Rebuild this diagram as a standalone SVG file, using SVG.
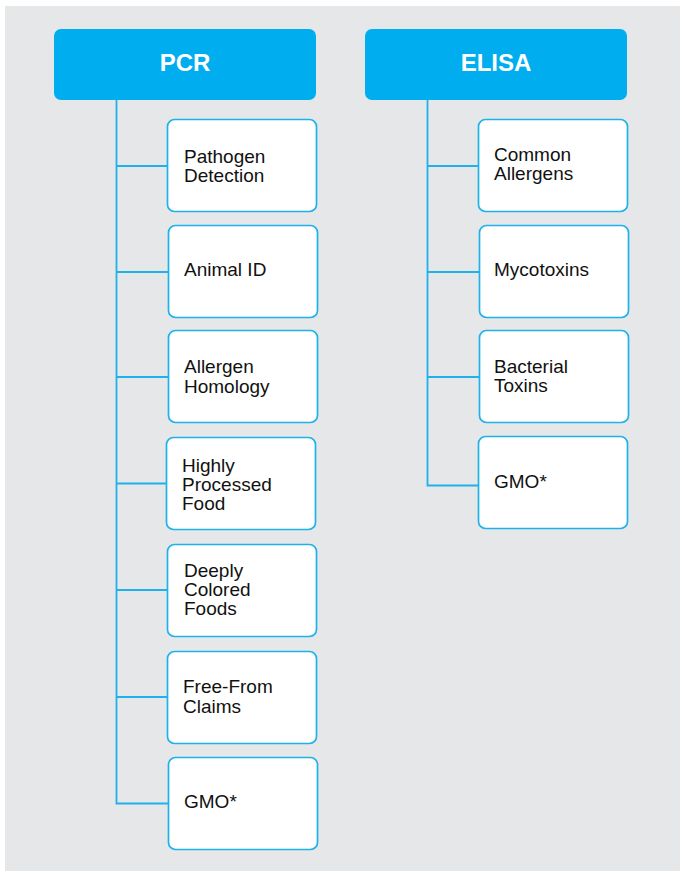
<svg xmlns="http://www.w3.org/2000/svg" width="680" height="871" viewBox="0 0 680 871">
<style>
.hdr{fill:#00AEEF}
.hdrt{font-family:"Liberation Sans",Arial,sans-serif;font-weight:bold;font-size:24px;fill:#fff;text-anchor:middle}
.box{fill:#fff;stroke:#1FB2EA;stroke-width:1.7}
.t{font-family:"Liberation Sans",Arial,sans-serif;font-size:19px;fill:#111}
.ln{fill:none;stroke:#1FB2EA;stroke-width:1.8}
</style>
<rect x="0" y="0" width="680" height="871" fill="#fff"/>
<rect x="5" y="6" width="675" height="865" fill="#E6E7E8"/>
<g id="connectors">
<path class="ln" d="M116.5 100 V803.5 H168 M116.5 166 H167 M116.5 272 H168 M116.5 377 H168 M116.5 483.5 H166 M116.5 590 H167 M116.5 697 H167"/>
<path class="ln" d="M427.5 100 V485.5 H478 M427.5 166 H478 M427.5 272 H479 M427.5 377 H479"/>
</g>
<g id="pcr"><rect class="hdr" x="54" y="29" width="262" height="71" rx="7"/><text class="hdrt" x="185" y="71">PCR</text></g>
<g id="elisa"><rect class="hdr" x="365" y="29" width="262" height="71" rx="7"/><text class="hdrt" x="496" y="71">ELISA</text></g>
<g id="pathogen"><rect class="box" x="167.5" y="119.5" width="149" height="92" rx="7"/><text class="t" x="184" y="163">Pathogen</text><text class="t" x="184" y="182">Detection</text></g>
<g id="animal"><rect class="box" x="168.5" y="225.5" width="149" height="92" rx="7"/><text class="t" x="184" y="276">Animal ID</text></g>
<g id="allergen"><rect class="box" x="168.5" y="330.5" width="149" height="92" rx="7"/><text class="t" x="184" y="373">Allergen</text><text class="t" x="184" y="393">Homology</text></g>
<g id="processed"><rect class="box" x="166.5" y="437.5" width="149" height="92" rx="7"/><text class="t" x="182" y="472">Highly</text><text class="t" x="182" y="491">Processed</text><text class="t" x="182" y="510">Food</text></g>
<g id="colored"><rect class="box" x="167.5" y="544.5" width="149" height="92" rx="7"/><text class="t" x="184" y="577">Deeply</text><text class="t" x="184" y="596">Colored</text><text class="t" x="184" y="615">Foods</text></g>
<g id="freefrom"><rect class="box" x="167.5" y="651.5" width="149" height="92" rx="7"/><text class="t" x="183" y="693">Free-From</text><text class="t" x="183" y="713">Claims</text></g>
<g id="gmo-pcr"><rect class="box" x="168.5" y="757.5" width="149" height="92" rx="7"/><text class="t" x="184" y="808">GMO*</text></g>
<g id="common"><rect class="box" x="478.5" y="119.5" width="149" height="92" rx="7"/><text class="t" x="494" y="161">Common</text><text class="t" x="494" y="180">Allergens</text></g>
<g id="myco"><rect class="box" x="479.5" y="225.5" width="149" height="92" rx="7"/><text class="t" x="494" y="276">Mycotoxins</text></g>
<g id="bacterial"><rect class="box" x="479.5" y="330.5" width="149" height="92" rx="7"/><text class="t" x="494" y="373">Bacterial</text><text class="t" x="494" y="392">Toxins</text></g>
<g id="gmo-elisa"><rect class="box" x="478.5" y="436.5" width="149" height="92" rx="7"/><text class="t" x="494" y="488">GMO*</text></g>
</svg>
